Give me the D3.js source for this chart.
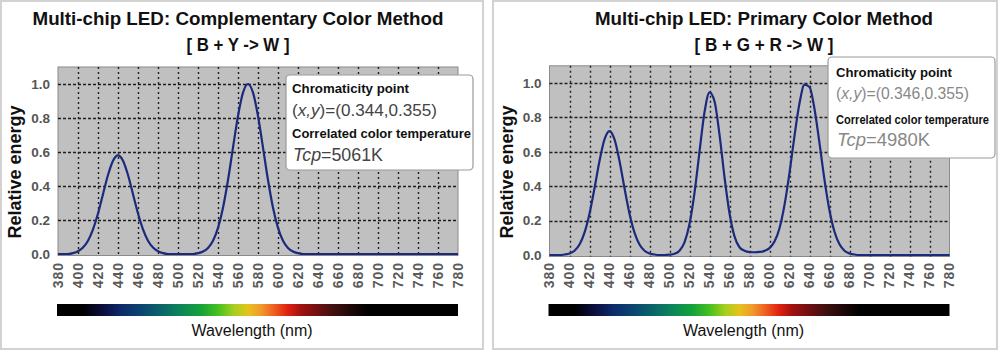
<!DOCTYPE html>
<html>
<head>
<meta charset="utf-8">
<script src="https://cdnjs.cloudflare.com/ajax/libs/d3/7.8.5/d3.min.js"></script>
<style>
  html, body { margin: 0; padding: 0; background: #fff; }
  svg { display: block; font-family: "Liberation Sans", Arial, sans-serif; }
</style>
</head>
<body>
<svg id="chart" width="1000" height="352"></svg>
<script>
// ---------------- DATA ----------------
const wavelengthTicks = [380,400,420,440,460,480,500,520,540,560,580,600,620,640,660,680,700,720,740,760,780];
const energyTicks = [0.0,0.2,0.4,0.6,0.8,1.0];

const wavelengths = [380,385,390,395,400,405,410,415,420,425,430,435,440,445,450,455,460,465,470,475,480,485,490,495,500,505,510,515,520,525,530,535,540,545,550,555,560,565,570,575,580,585,590,595,600,605,610,615,620,625,630,635,640,645,650,655,660,665,670,675,680,685,690,695,700,705,710,715,720,725,730,735,740,745,750,755,760,765,770,775,780];

// Complementary colour method (B + Y -> W)
const energyComplementary = [0,0,0,0.005,0.016,0.038,0.078,0.145,0.238,0.352,0.465,0.549,0.58,0.549,0.465,0.352,0.238,0.145,0.078,0.038,0.016,0.005,0,0,0,0,0,0,0.005,0.015,0.036,0.078,0.154,0.272,0.435,0.626,0.812,0.949,1.0,0.949,0.812,0.626,0.435,0.272,0.154,0.078,0.036,0.015,0.005,0,0,0,0,0,0,0,0,0,0,0,0,0,0,0,0,0,0,0,0,0,0,0,0,0,0,0,0,0,0,0,0];

// Primary colour method (B + G + R -> W)
const energyPrimary = [0,0,0,0.003,0.009,0.025,0.061,0.13,0.24,0.388,0.547,0.672,0.72,0.672,0.547,0.388,0.24,0.13,0.061,0.025,0.009,0.003,0,0,0.002,0.007,0.025,0.074,0.18,0.361,0.60,0.83,0.946,0.894,0.70,0.453,0.243,0.108,0.045,0.025,0.017,0.016,0.018,0.024,0.04,0.078,0.156,0.291,0.478,0.693,0.882,0.99,0.977,0.849,0.65,0.437,0.259,0.135,0.062,0.025,0.009,0.003,0,0,0,0,0,0,0,0,0,0,0,0,0,0,0,0,0,0,0];

const titlesComplementary = ["Multi-chip LED: Complementary Color Method", "[ B + Y -> W ]"];
const titlesPrimary = ["Multi-chip LED: Primary Color Method", "[ B + G + R -> W ]"];
const chromaComplementary = ["0.344", "0.355"];
const chromaPrimary = ["0.346", "0.355"];
const tcpComplementary = "5061K";
const tcpPrimary = "4980K";

const yAxisLabel = "Relative energy";
const xAxisLabel = "Wavelength (nm)";
const infoHeading1 = "Chromaticity point";
const infoHeading2 = "Correlated color temperature";

// Spectrum bar colours (wavelength -> colour)
const spectrumNm =     [380,     405,      423,      443,      463,      483,      503,      523,      540,      556,      570,      583,      596,      610,      623,      640,      656,      673,      690,      780];
const spectrumColors = ["#000000","#000000","#0c0c3a","#0c2a6a","#0a4570","#0a6468","#0c8658","#14a23a","#46c020","#a6cf1e","#e6c21c","#f09a2c","#f05e20","#de2010","#a01210","#6e1010","#401010","#1e0808","#000000","#000000"];

// ---------------- LAYOUT ----------------
const svg = d3.select("#chart");
const defs = svg.append("defs");

const panels = [
  { box: [1, 1, 482, 348], plotL: 58, plotR: 458, y0: 254, y1: 84, titles: titlesComplementary, data: energyComplementary,
    chroma: chromaComplementary, tcp: tcpComplementary, titleW: [411, 103], cx: 238, yTitleX: 15,
    info: { x: 286, y: 75, w: 187, h: 95, tx: 292, lines: [93, 116, 138, 161], widths: [117, 145, 179, 90], sizes: [13, 16.5, 13, 17.5], color2: "#444" } },
  { box: [493, 1, 504, 348], plotL: 549.5, plotR: 949.5, y0: 255, y1: 83, titles: titlesPrimary, data: energyPrimary,
    chroma: chromaPrimary, tcp: tcpPrimary, titleW: [338, 139], cx: 764, yTitleX: 507,
    info: { x: 828, y: 57, w: 167, h: 101, tx: 836, lines: [77, 99, 124, 146], widths: [116, 133, 153, 93], sizes: [13, 16, 12, 18], color2: "#888" } }
];

panels.forEach((p, pi) => {
  const g = svg.append("g");

  // panel border
  g.append("rect")
    .attr("x", p.box[0]).attr("y", p.box[1]).attr("width", p.box[2]).attr("height", p.box[3])
    .attr("fill", "#fff").attr("stroke", "#d2d2d2").attr("stroke-width", 2);

  const x = d3.scaleLinear().domain([380, 780]).range([p.plotL, p.plotR]);
  const y = d3.scaleLinear().domain([0, 1]).range([p.y0, p.y1]);
  const top = y(1.1);
  const bottom = y(0) + 1.5;

  // titles
  p.titles.forEach((t, i) => {
    g.append("text")
      .attr("x", p.cx).attr("y", i === 0 ? 25 : 51)
      .attr("text-anchor", "middle")
      .attr("font-size", 19).attr("font-weight", "bold").attr("fill", "#111")
      .attr("textLength", p.titleW[i]).attr("lengthAdjust", "spacingAndGlyphs")
      .text(t);
  });

  // plot background
  g.append("rect")
    .attr("x", x(380)).attr("y", top)
    .attr("width", x(780) - x(380)).attr("height", bottom - top)
    .attr("fill", "#c0c0c0").attr("stroke", "#8a8a8a").attr("stroke-width", 1);

  // vertical grid
  g.append("g").selectAll("line")
    .data(wavelengthTicks.filter(d => d > 380 && d < 780))
    .join("line")
    .attr("x1", d => Math.round(x(d)) + 0.5).attr("x2", d => Math.round(x(d)) + 0.5)
    .attr("y1", top).attr("y2", bottom)
    .attr("stroke", "#1e1e1e").attr("stroke-width", 1.4).attr("stroke-dasharray", "2,3");

  // horizontal grid
  g.append("g").selectAll("line")
    .data(energyTicks.filter(d => d > 0))
    .join("line")
    .attr("x1", x(380)).attr("x2", x(780))
    .attr("y1", d => Math.round(y(d)) + 0.5).attr("y2", d => Math.round(y(d)) + 0.5)
    .attr("stroke", "#1e1e1e").attr("stroke-width", 1.4).attr("stroke-dasharray", "3,2");

  // y tick labels
  g.append("g").selectAll("text")
    .data(energyTicks)
    .join("text")
    .attr("x", x(380) - 8).attr("y", d => y(d))
    .attr("dy", "0.35em")
    .attr("text-anchor", "end")
    .attr("font-size", 13.5).attr("font-weight", "bold").attr("fill", "#555")
    .text(d => d3.format(".1f")(d));

  // x tick labels (rotated)
  g.append("g").selectAll("text")
    .data(wavelengthTicks)
    .join("text")
    .attr("transform", d => `translate(${x(d)},262) rotate(-90)`)
    .attr("dy", "0.35em")
    .attr("text-anchor", "end")
    .attr("font-size", 14).attr("font-weight", "bold").attr("fill", "#5a5a5a")
    .attr("letter-spacing", 1)
    .text(d => d);

  // y axis title
  g.append("text")
    .attr("transform", `translate(${p.yTitleX},${172}) rotate(-90)`)
    .attr("dy", "0.35em")
    .attr("text-anchor", "middle")
    .attr("font-size", 18).attr("font-weight", "bold").attr("fill", "#111")
    .text(yAxisLabel);

  // curve
  const line = d3.line()
    .x((d, i) => x(wavelengths[i]))
    .y(d => y(d))
    .curve(d3.curveMonotoneX);
  g.append("path")
    .datum(p.data)
    .attr("d", line)
    .attr("fill", "none")
    .attr("stroke", "#1b2a7c")
    .attr("stroke-width", 2.2)
    .attr("stroke-linejoin", "round");

  // spectrum bar
  const gradId = "spec" + pi;
  const grad = defs.append("linearGradient").attr("id", gradId)
    .attr("gradientUnits", "userSpaceOnUse")
    .attr("x1", x(380)).attr("x2", x(780)).attr("y1", 0).attr("y2", 0);
  grad.selectAll("stop")
    .data(spectrumNm)
    .join("stop")
    .attr("offset", d => (d - 380) / 400)
    .attr("stop-color", (d, i) => spectrumColors[i]);
  g.append("rect")
    .attr("x", x(380) - 1).attr("y", 304)
    .attr("width", x(780) - x(380) + 1).attr("height", 12)
    .attr("fill", `url(#${gradId})`);

  // x axis title
  g.append("text")
    .attr("x", (x(380) + x(780)) / 2 - 6).attr("y", 336)
    .attr("text-anchor", "middle")
    .attr("font-size", 16).attr("fill", "#111")
    .text(xAxisLabel);

  // info box
  const inf = p.info;
  g.append("rect")
    .attr("x", inf.x).attr("y", inf.y).attr("width", inf.w).attr("height", inf.h)
    .attr("rx", 4).attr("fill", "#fff").attr("stroke", "#9a9a9a").attr("stroke-width", 1.2);

  g.append("text")
    .attr("x", inf.tx).attr("y", inf.lines[0])
    .attr("font-size", inf.sizes[0]).attr("font-weight", "bold").attr("fill", "#111")
    .attr("textLength", inf.widths[0]).attr("lengthAdjust", "spacingAndGlyphs")
    .text(infoHeading1);

  const t2 = g.append("text")
    .attr("x", inf.tx).attr("y", inf.lines[1])
    .attr("font-size", inf.sizes[1]).attr("fill", inf.color2)
    .attr("textLength", inf.widths[1]).attr("lengthAdjust", "spacingAndGlyphs");
  t2.append("tspan").text("(");
  t2.append("tspan").attr("font-style", "italic").text("x,y");
  t2.append("tspan").text(`)=(${p.chroma[0]},${p.chroma[1]})`);

  g.append("text")
    .attr("x", inf.tx).attr("y", inf.lines[2])
    .attr("font-size", inf.sizes[2]).attr("font-weight", "bold").attr("fill", "#111")
    .attr("textLength", inf.widths[2]).attr("lengthAdjust", "spacingAndGlyphs")
    .text(infoHeading2);

  const t4 = g.append("text")
    .attr("x", inf.tx + 1).attr("y", inf.lines[3])
    .attr("font-size", inf.sizes[3]).attr("fill", inf.color2)
    .attr("textLength", inf.widths[3]).attr("lengthAdjust", "spacingAndGlyphs");
  t4.append("tspan").attr("font-style", "italic").text("Tcp");
  t4.append("tspan").text("=" + p.tcp);
});
</script>
</body>
</html>
